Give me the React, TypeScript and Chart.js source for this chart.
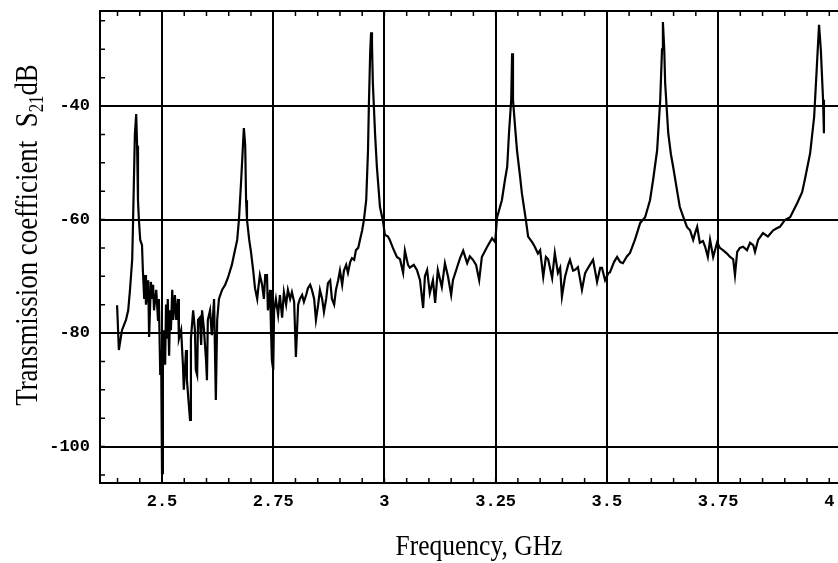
import React, { useEffect, useRef } from "react";
import { Chart, registerables } from "chart.js";

Chart.register(...registerables);

// Measured trace: frequency (GHz) and transmission coefficient S21 (dB)
const frequencyGHz = [
  2.399, 2.403, 2.41, 2.419, 2.424, 2.428, 2.433, 2.435, 2.439, 2.442, 2.444, 2.446, 2.448, 2.451, 2.455, 2.457, 2.46, 2.462, 2.464, 2.469,
  2.471, 2.475, 2.478, 2.48, 2.482, 2.487, 2.491, 2.493, 2.496, 2.498, 2.5, 2.502, 2.504, 2.507, 2.509, 2.511, 2.513, 2.516, 2.518, 2.52,
  2.523, 2.525, 2.529, 2.532, 2.536, 2.538, 2.543, 2.547, 2.549, 2.554, 2.556, 2.563, 2.565, 2.57, 2.574, 2.576, 2.579, 2.581, 2.585, 2.588,
  2.59, 2.594, 2.599, 2.601, 2.603, 2.608, 2.612, 2.617, 2.621, 2.624, 2.628, 2.635, 2.642, 2.648, 2.657, 2.664, 2.669, 2.673, 2.678, 2.682,
  2.684, 2.687, 2.689, 2.691, 2.696, 2.7, 2.705, 2.709, 2.714, 2.716, 2.72, 2.725, 2.729, 2.732, 2.736, 2.738, 2.743, 2.745, 2.747, 2.75,
  2.752, 2.756, 2.761, 2.765, 2.77, 2.774, 2.779, 2.783, 2.788, 2.792, 2.797, 2.801, 2.806, 2.81, 2.815, 2.819, 2.824, 2.828, 2.833, 2.837,
  2.842, 2.846, 2.851, 2.855, 2.86, 2.864, 2.869, 2.873, 2.878, 2.882, 2.887, 2.891, 2.896, 2.9, 2.905, 2.909, 2.914, 2.918, 2.923, 2.927,
  2.932, 2.936, 2.941, 2.945, 2.95, 2.954, 2.959, 2.963, 2.965, 2.968, 2.97, 2.972, 2.974, 2.979, 2.983, 2.99, 2.997, 3.001, 3.008, 3.012,
  3.019, 3.028, 3.035, 3.042, 3.046, 3.053, 3.057, 3.066, 3.073, 3.08, 3.087, 3.091, 3.096, 3.102, 3.109, 3.114, 3.12, 3.129, 3.136, 3.143,
  3.15, 3.154, 3.163, 3.17, 3.177, 3.186, 3.192, 3.199, 3.206, 3.213, 3.219, 3.231, 3.242, 3.249, 3.253, 3.264, 3.271, 3.276, 3.28, 3.285,
  3.287, 3.289, 3.294, 3.298, 3.305, 3.309, 3.318, 3.323, 3.332, 3.338, 3.345, 3.35, 3.357, 3.363, 3.368, 3.377, 3.383, 3.39, 3.395, 3.399,
  3.406, 3.413, 3.417, 3.424, 3.428, 3.435, 3.444, 3.451, 3.455, 3.462, 3.469, 3.478, 3.485, 3.489, 3.496, 3.503, 3.507, 3.516, 3.523, 3.53,
  3.536, 3.545, 3.552, 3.563, 3.575, 3.586, 3.597, 3.604, 3.613, 3.62, 3.624, 3.626, 3.629, 3.631, 3.638, 3.644, 3.649, 3.658, 3.664, 3.673,
  3.68, 3.687, 3.694, 3.698, 3.703, 3.709, 3.716, 3.721, 3.727, 3.732, 3.739, 3.748, 3.754, 3.761, 3.77, 3.777, 3.784, 3.788, 3.793, 3.799,
  3.806, 3.815, 3.822, 3.829, 3.833, 3.84, 3.851, 3.862, 3.874, 3.883, 3.889, 3.9, 3.912, 3.928, 3.939, 3.945, 3.957, 3.966, 3.972, 3.977,
  3.981, 3.986, 3.988,
];

const s21dB = [
  -75.1, -83, -79.5, -77.7, -76, -72.4, -67, -60, -45, -41.4, -47, -56.6, -60, -63.6, -64.5, -69, -74, -69.8, -75, -70.7,
  -80.7, -71, -74, -71.5, -76, -72.4, -77.7, -74, -87.4, -83, -104.7, -86.5, -79.5, -85.6, -75, -81, -74, -84, -76, -79.5,
  -72.4, -77.7, -73.3, -77.7, -74, -81, -79.5, -85.6, -90, -83, -88.3, -95.3, -81, -76, -79.5, -86.5, -87.4, -77.7, -77.3, -82.1,
  -76, -79.1, -84.8, -88.3, -77.7, -76, -80.4, -74, -91.8, -77.7, -74, -72.4, -71.5, -70.3, -68, -65.4, -63.6, -60, -53, -46.9,
  -43.9, -46.9, -56.6, -60, -63.6, -65.7, -69, -72.1, -74, -72.4, -69.8, -71.5, -74, -69.8, -69.8, -76, -72.4, -79.5, -84.8, -86.5,
  -76, -74, -76.8, -73.3, -77.3, -72.8, -75, -72.4, -74, -72.8, -74.5, -84.2, -75, -74, -73.3, -74.5, -73.3, -72.1, -71.5, -72.4,
  -74, -77.7, -75, -72.4, -74, -76.3, -74, -71.2, -70.7, -74, -75, -72.4, -70.7, -69, -71.5, -69, -68, -69.4, -67.5, -66.8,
  -67.1, -65.4, -65, -63.6, -61.9, -60, -56.6, -48, -40, -30.5, -27, -29, -36, -45, -50.7, -57.8, -60.4, -62.7, -63, -63.6,
  -65, -66.6, -67, -69.4, -65.5, -68, -68.5, -68, -68.9, -70.7, -75.6, -70, -68.9, -73, -70.7, -74.7, -68.9, -71.9, -67.7, -70.1,
  -73.3, -70.7, -68.5, -66.8, -65.5, -67.7, -66.5, -67.1, -68, -70.7, -66.6, -64.8, -63.3, -64, -59.7, -56.6, -53, -50.7, -44.8, -38.9,
  -30.7, -38.9, -44, -47.8, -52.5, -55.4, -60.1, -63, -64, -64.8, -66, -65.4, -70.1, -66.6, -67, -70.3, -65.9, -69.4, -68.5, -73.6,
  -70.1, -68, -67.1, -69, -68.9, -68.4, -72.4, -69.5, -68.9, -68, -67.1, -71, -68.5, -68.5, -70.7, -69.5, -69.3, -67.5, -66.6, -67.5,
  -67.7, -66.5, -65.9, -63.6, -60.6, -59.6, -56.6, -53, -47.8, -38.9, -30, -25.2, -30, -35.9, -44.8, -48.5, -50.7, -55, -57.8, -59.8,
  -61.3, -61.9, -63.6, -62.5, -61.3, -64.1, -63.8, -64.8, -66.6, -63.6, -66.6, -64, -65, -65.4, -66, -66.6, -67, -69.8, -65.7, -65,
  -64.8, -65.4, -64.1, -64.5, -65.7, -63.6, -62.4, -63, -61.9, -61.5, -61.3, -60.1, -59.6, -57.1, -55.2, -53, -48.3, -41.9, -33.1, -25.7,
  -30.1, -38.9, -44.8,
];

const xTickValues = [2.5, 2.75, 3, 3.25, 3.5, 3.75, 4];
const xTickLabels = ["2.5", "2.75", "3", "3.25", "3.5", "3.75", "4"];
const yTickValues = [-100, -80, -60, -40];
const yTickLabels = ["-100", "-80", "-60", "-40"];
const xMinorTicks = [2.4, 2.45, 2.5, 2.55, 2.6, 2.65, 2.7, 2.75, 2.8, 2.85, 2.9, 2.95, 3, 3.05, 3.1, 3.15, 3.2, 3.25, 3.3, 3.35, 3.4, 3.45, 3.5, 3.55, 3.6, 3.65, 3.7, 3.75, 3.8, 3.85, 3.9, 3.95, 4];
const yMinorTicks = [-105, -100, -95, -90, -85, -80, -75, -70, -65, -60, -55, -50, -45, -40, -35, -30, -25];
const xAxisTitle = "Frequency, GHz";
const yAxisTitleMain = "Transmission coefficient  S";
const yAxisTitleSub = "21";
const yAxisTitleTail = "dB";

const X_MIN = 2.3606;
const X_MAX = 4.0196;
const Y_MIN = -106.43;
const Y_MAX = -23.26;

const SERIF = '"Liberation Serif", "Times New Roman", serif';
const MONO = '"Liberation Mono", "Courier New", monospace';

const framePlugin = {
  id: "framePlugin",
  afterDraw(chart: any) {
    const { ctx, chartArea: a, scales } = chart;
    const xs = scales.x;
    const ys = scales.y;
    ctx.save();
    ctx.strokeStyle = "#000";
    ctx.lineWidth = 2;
    ctx.beginPath();
    ctx.moveTo(a.left - 1, a.top);
    ctx.lineTo(a.right, a.top);
    ctx.stroke();

    ctx.lineWidth = 1.5;
    ctx.beginPath();
    for (const v of xMinorTicks) {
      const px = xs.getPixelForValue(v);
      ctx.moveTo(px, a.bottom);
      ctx.lineTo(px, a.bottom - 5);
      ctx.moveTo(px, a.top);
      ctx.lineTo(px, a.top + 5);
    }
    for (const v of yMinorTicks) {
      const py = ys.getPixelForValue(v);
      ctx.moveTo(a.left, py);
      ctx.lineTo(a.left + 5, py);
    }
    ctx.stroke();
    ctx.restore();

    // X axis title
    ctx.save();
    ctx.fillStyle = "#000";
    ctx.translate((a.left + a.right) / 2 + 10, a.bottom + 72);
    ctx.scale(0.85, 1);
    ctx.font = `30px ${SERIF}`;
    ctx.textAlign = "center";
    ctx.textBaseline = "alphabetic";
    ctx.fillText(xAxisTitle, 0, 0);
    ctx.restore();

    // Y axis title with subscript
    ctx.save();
    ctx.fillStyle = "#000";
    ctx.translate(37, (a.top + a.bottom) / 2 - 12);
    ctx.rotate(-Math.PI / 2);
    ctx.scale(0.84, 1);
    ctx.textAlign = "left";
    ctx.textBaseline = "alphabetic";
    const mainFont = `32px ${SERIF}`;
    const subFont = `20px ${SERIF}`;
    ctx.font = mainFont;
    const w1 = ctx.measureText(yAxisTitleMain).width;
    const w3 = ctx.measureText(yAxisTitleTail).width;
    ctx.font = subFont;
    const w2 = ctx.measureText(yAxisTitleSub).width;
    let x0 = -(w1 + w2 + w3) / 2;
    ctx.font = mainFont;
    ctx.fillText(yAxisTitleMain, x0, 0);
    x0 += w1;
    ctx.font = subFont;
    ctx.fillText(yAxisTitleSub, x0, 6);
    x0 += w2;
    ctx.font = mainFont;
    ctx.fillText(yAxisTitleTail, x0, 0);
    ctx.restore();
  },
};

export default function App() {
  const canvasRef = useRef<HTMLCanvasElement | null>(null);

  useEffect(() => {
    document.body.style.margin = "0";
    document.body.style.background = "#fff";
    const canvas = canvasRef.current;
    if (!canvas) return;
    const points = frequencyGHz.map((f, i) => ({ x: f, y: s21dB[i] }));
    const chart = new Chart(canvas, {
      type: "line",
      data: {
        datasets: [
          {
            label: "S21",
            data: points,
            borderColor: "#000",
            backgroundColor: "#000",
            borderWidth: 2.2,
            pointRadius: 0,
            tension: 0,
            fill: false,
          },
        ],
      },
      options: {
        animation: false,
        responsive: false,
        maintainAspectRatio: false,
        layout: { padding: { top: 11, right: 0, left: 0, bottom: 0 } },
        plugins: {
          legend: { display: false },
          tooltip: { enabled: false },
          title: { display: false },
        },
        scales: {
          x: {
            type: "linear",
            min: X_MIN,
            max: X_MAX,
            afterBuildTicks: (axis: any) => {
              axis.ticks = xTickValues.map((v) => ({ value: v }));
            },
            afterFit: (axis: any) => {
              axis.height = 80;
              axis.paddingLeft = 0;
              axis.paddingRight = 0;
            },
            ticks: {
              autoSkip: false,
              maxRotation: 0,
              padding: 9,
              color: "#000",
              font: { family: MONO, size: 17, weight: "bold" },
              callback: (value: any) => {
                const i = xTickValues.findIndex((t) => Math.abs(t - value) < 1e-6);
                return i >= 0 ? xTickLabels[i] : "";
              },
            },
            grid: {
              drawTicks: false,
              lineWidth: 2,
              color: (c: any) => (c.tick && Math.abs(c.tick.value - 4) < 1e-6 ? "rgba(0,0,0,0)" : "#000"),
            },
            border: { display: true, color: "#000", width: 2 },
          },
          y: {
            type: "linear",
            min: Y_MIN,
            max: Y_MAX,
            afterBuildTicks: (axis: any) => {
              axis.ticks = yTickValues.map((v) => ({ value: v }));
            },
            afterFit: (axis: any) => {
              axis.width = 100;
              axis.paddingTop = 0;
              axis.paddingBottom = 0;
            },
            ticks: {
              autoSkip: false,
              padding: 10,
              color: "#000",
              font: { family: MONO, size: 17, weight: "bold" },
              callback: (value: any) => {
                const i = yTickValues.findIndex((t) => Math.abs(t - value) < 1e-6);
                return i >= 0 ? yTickLabels[i] : "";
              },
            },
            grid: { drawTicks: false, lineWidth: 2, color: "#000" },
            border: { display: true, color: "#000", width: 2 },
          },
        },
      },
      plugins: [framePlugin],
    });
    return () => chart.destroy();
  }, []);

  return (
    <div style={{ width: 838, height: 563, background: "#fff" }}>
      <canvas ref={canvasRef} width={838} height={563} style={{ display: "block" }} />
    </div>
  );
}
